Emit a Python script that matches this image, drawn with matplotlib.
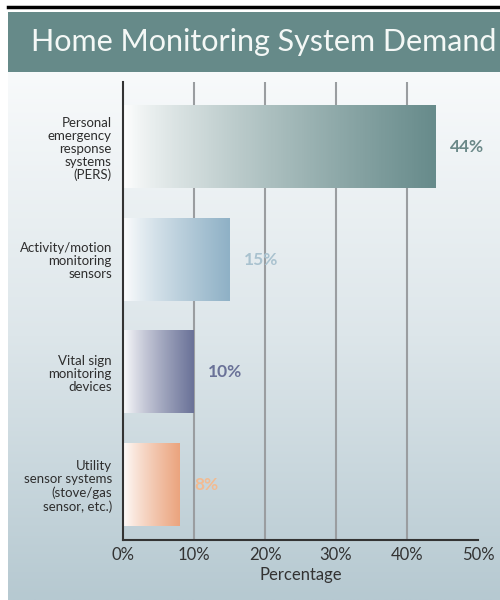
import numpy as np
import matplotlib.pyplot as plt
from matplotlib.colors import LinearSegmentedColormap

# data
categories = ["Personal\nemergency\nresponse\nsystems\n(PERS)",
              "Activity/motion\nmonitoring\nsensors",
              "Vital sign\nmonitoring\ndevices",
              "Utility\nsensor systems\n(stove/gas\nsensor, etc.)"]
values = [44, 15, 10, 8]
value_labels = ["44%", "15%", "10%", "8%"]
bar_colors = ["#678b8b", "#8fb1c6", "#6a7298", "#eba47e"]
label_colors = ["#6a8888", "#a9c2cf", "#6a7298", "#f2bb92"]
xticks = [0, 10, 20, 30, 40, 50]
xtick_labels = ["0%", "10%", "20%", "30%", "40%", "50%"]

plt.rcParams['font.family'] = ['Lato', 'DejaVu Sans']

fig = plt.figure(figsize=(5, 6), dpi=100)
fig.patch.set_facecolor("white")

# background panel with vertical gradient
bg = fig.add_axes([0.016, 0, 0.984, 0.88])
grad = np.linspace(0, 1, 256).reshape(-1, 1)
bg_cmap = LinearSegmentedColormap.from_list("bg", ["#b6c9d1", "#dde6ea", "#f8fafb"])
bg.imshow(grad, aspect="auto", cmap=bg_cmap, origin="lower", extent=[0, 1, 0, 1])
bg.set_axis_off()

# title band
tb = fig.add_axes([0.016, 0.88, 0.984, 0.1])
tb.set_facecolor("#668a89")
tb.set_xticks([])
tb.set_yticks([])
for s in tb.spines.values():
    s.set_visible(False)
tb.text(0.52, 0.5, "Home Monitoring System Demand", color="#f4f8f6",
        fontsize=22, ha="center", va="center", transform=tb.transAxes)
fig.add_artist(plt.Line2D([0.016, 1.0], [0.988, 0.988], color="black", lw=2.5))

# main axes
ax = fig.add_axes([0.246, 0.1, 0.71, 0.763])
ax.patch.set_alpha(0)

for x in xticks[1:-1]:
    ax.axvline(x, color="#9a9da0", lw=1.5, zorder=1)

h = 0.73
for i, (v, c) in enumerate(zip(values, bar_colors)):
    cmap = LinearSegmentedColormap.from_list("b%d" % i, ["#ffffff", c])
    ax.imshow(np.linspace(0, 1, 256).reshape(1, -1) ** 0.8, cmap=cmap, aspect="auto",
              extent=[0, v, i + h / 2, i - h / 2], zorder=2)
    ax.text(v + 2.0, i, value_labels[i], color=label_colors[i], fontsize=12.5,
            fontweight="bold", ha="left", va="center", zorder=3)
ax.set_xlim(0, 50)
ax.set_ylim(3.49, -0.58)

ax.set_yticks(range(len(categories)))
ax.set_yticklabels(categories, fontsize=9.5, color="#2e2e2e", linespacing=1.1)
ax.tick_params(axis="y", length=0, pad=8)
ax.set_xticks(xticks)
ax.set_xticklabels(xtick_labels, fontsize=12, color="#333333")
ax.tick_params(axis="x", length=0, pad=5)
ax.set_xlabel("Percentage", fontsize=12, color="#333333", labelpad=3)

for s in ["top", "right"]:
    ax.spines[s].set_visible(False)
ax.spines["left"].set_color("#333333")
ax.spines["bottom"].set_color("#333333")
ax.spines["left"].set_linewidth(1.5)
ax.spines["bottom"].set_linewidth(1.5)

fig.savefig("out.png", dpi=100)
